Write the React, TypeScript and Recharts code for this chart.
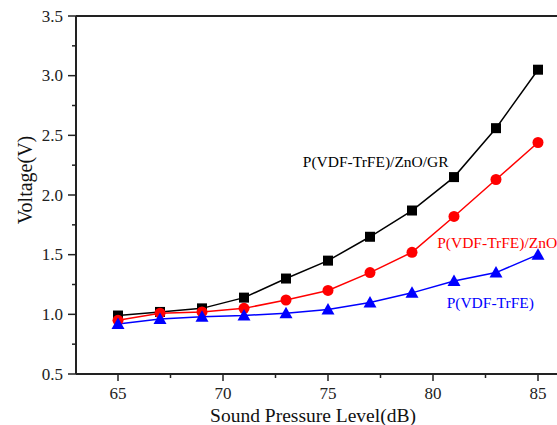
import React from 'react';
import { LineChart, Line, XAxis, YAxis, ReferenceLine, ReferenceDot } from 'recharts';

const spl = [65, 67, 69, 71, 73, 75, 77, 79, 81, 83, 85];
const grVoltage = [0.99, 1.02, 1.05, 1.14, 1.3, 1.45, 1.65, 1.87, 2.15, 2.56, 3.05];
const znoVoltage = [0.95, 1.01, 1.02, 1.05, 1.12, 1.2, 1.35, 1.52, 1.82, 2.13, 2.44];
const pureVoltage = [0.92, 0.96, 0.98, 0.99, 1.01, 1.04, 1.1, 1.18, 1.28, 1.35, 1.5];

const xTicks = [65, 67.5, 70, 72.5, 75, 77.5, 80, 82.5, 85];
const yTicks = [0.5, 0.75, 1.0, 1.25, 1.5, 1.75, 2.0, 2.25, 2.5, 2.75, 3.0, 3.25, 3.5];

const seriesLabels = [
  { x: 73.8, y: 2.28, text: 'P(VDF-TrFE)/ZnO/GR', color: '#000000' },
  { x: 80.2, y: 1.6, text: 'P(VDF-TrFE)/ZnO', color: '#ff0000' },
  { x: 80.65, y: 1.1, text: 'P(VDF-TrFE)', color: '#0000ff' },
];

const data = spl.map((s, i) => ({
  spl: s,
  gr: grVoltage[i],
  zno: znoVoltage[i],
  pure: pureVoltage[i],
}));

const FONT = '"Liberation Serif", "Times New Roman", serif';
const AXIS = '#222';

const YTick = (props: any) => {
  const { x, y, payload } = props;
  const v = payload.value as number;
  const major = Math.abs(v * 2 - Math.round(v * 2)) < 1e-6;
  return (
    <g>
      <line x1={x - (major ? 8 : 4)} x2={x} y1={y} y2={y} stroke={AXIS} strokeWidth={1.5} />
      {major && (
        <text x={x - 13} y={y} textAnchor="end" dominantBaseline="central" fontSize={17} fontFamily={FONT} fill="#222">
          {v.toFixed(1)}
        </text>
      )}
    </g>
  );
};

const XTick = (props: any) => {
  const { x, y, payload } = props;
  const v = payload.value as number;
  const major = v % 5 === 0;
  return (
    <g>
      <line x1={x} x2={x} y1={y} y2={y + (major ? 7 : 4)} stroke={AXIS} strokeWidth={1.5} />
      {major && (
        <text x={x} y={y + 19} textAnchor="middle" dominantBaseline="central" fontSize={17} fontFamily={FONT} fill="#222">
          {v}
        </text>
      )}
    </g>
  );
};

const Square = (props: any) => {
  const { cx, cy } = props;
  return <rect x={cx - 5} y={cy - 5} width={10} height={10} fill="#000" />;
};

const Circle = (props: any) => {
  const { cx, cy } = props;
  return <circle cx={cx} cy={cy} r={5.5} fill="#ff0000" />;
};

const Triangle = (props: any) => {
  const { cx, cy } = props;
  return <polygon points={`${cx},${cy - 6.5} ${cx - 6.5},${cy + 5} ${cx + 6.5},${cy + 5}`} fill="#0000ff" />;
};

export default function App() {
  return (
    <div style={{ position: 'absolute', left: 0, top: 0, width: 557, height: 425, overflow: 'hidden', background: '#fff' }}>
      <LineChart width={600} height={425} data={data} margin={{ top: 16, right: 20, bottom: 0, left: 0 }}>
        <XAxis
          dataKey="spl"
          type="number"
          domain={[63, 87]}
          ticks={xTicks}
          interval={0}
          tick={<XTick />}
          tickSize={0}
          tickMargin={0}
          tickLine={false}
          axisLine={{ stroke: AXIS, strokeWidth: 2 }}
          height={51}
        />
        <YAxis
          type="number"
          domain={[0.5, 3.5]}
          ticks={yTicks}
          interval={0}
          tick={<YTick />}
          tickSize={0}
          tickMargin={0}
          tickLine={false}
          axisLine={{ stroke: AXIS, strokeWidth: 2 }}
          width={76}
        />
        <ReferenceLine y={3.5} stroke={AXIS} strokeWidth={2} />
        <Line dataKey="gr" stroke="#000" strokeWidth={1.5} dot={<Square />} isAnimationActive={false} />
        <Line dataKey="zno" stroke="#ff0000" strokeWidth={1.5} dot={<Circle />} isAnimationActive={false} />
        <Line dataKey="pure" stroke="#0000ff" strokeWidth={1.5} dot={<Triangle />} isAnimationActive={false} />
        {seriesLabels.map((l) => (
          <ReferenceDot
            key={l.text}
            x={l.x}
            y={l.y}
            r={0}
            shape={(p: any) => (
              <text x={p.cx} y={p.cy} textAnchor="start" dominantBaseline="central" fontSize={15.5} fontFamily={FONT} fill={l.color}>
                {l.text}
              </text>
            )}
          />
        ))}
      </LineChart>
      <div
        style={{
          position: 'absolute',
          left: 313,
          top: 416,
          transform: 'translate(-50%, -50%)',
          fontFamily: FONT,
          fontSize: 19.5,
          lineHeight: 1,
          color: '#111',
          whiteSpace: 'nowrap',
        }}
      >
        Sound Pressure Level(dB)
      </div>
      <div
        style={{
          position: 'absolute',
          left: 25,
          top: 180,
          transform: 'translate(-50%, -50%) rotate(-90deg)',
          fontFamily: FONT,
          fontSize: 20,
          lineHeight: 1,
          color: '#111',
          whiteSpace: 'nowrap',
        }}
      >
        Voltage(V)
      </div>
    </div>
  );
}
